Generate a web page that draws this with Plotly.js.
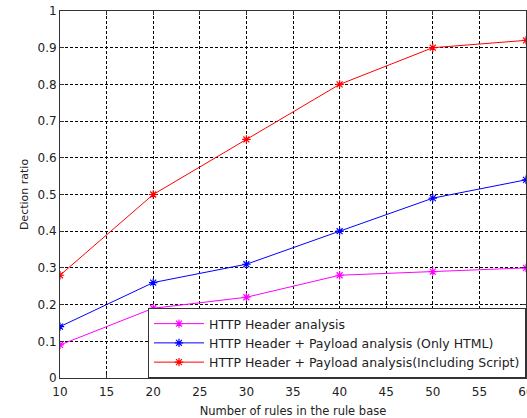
<!DOCTYPE html>
<html><head><meta charset="utf-8">
<script src="https://cdn.plot.ly/plotly-3.0.1.min.js"></script>
<style>body{margin:0;padding:0;background:#fff}#c{width:527px;height:418px}</style>
</head><body><div id="c"></div>
<script>
const rules = [10, 20, 30, 40, 50, 60];
const headerOnly = [0.09, 0.19, 0.22, 0.28, 0.29, 0.30];
const payloadHtml = [0.14, 0.26, 0.31, 0.40, 0.49, 0.54];
const payloadScript = [0.28, 0.50, 0.65, 0.80, 0.90, 0.92];
const seriesNames = ["HTTP Header analysis", "HTTP Header + Payload analysis (Only HTML)", "HTTP Header + Payload analysis(Including Script)"];
const colors = ["#ff00ff", "#0000ff", "#ff0000"];
const xTicks = [10, 15, 20, 25, 30, 35, 40, 45, 50, 55, 60];
const yTicks = [0, 0.1, 0.2, 0.3, 0.4, 0.5, 0.6, 0.7, 0.8, 0.9, 1];

const FONT = 'DejaVu Sans, Verdana, sans-serif';
const ys = [headerOnly, payloadHtml, payloadScript];
const traces = ys.map((y, i) => ({
  x: rules, y: y, name: seriesNames[i], type: 'scatter', mode: 'lines+markers',
  line: {color: colors[i], width: 1},
  marker: {symbol: 'asterisk-open', size: 7, color: colors[i], line: {color: colors[i], width: 1.2}}
}));

const axisCommon = {
  showline: true, linecolor: '#333', linewidth: 1, mirror: 'ticks',
  ticks: 'inside', ticklen: 4, tickcolor: '#333',
  showgrid: true, gridcolor: '#000', griddash: '3px,2px', gridwidth: 1,
  zeroline: false, automargin: false, ticklabeloverflow: 'allow',
  tickfont: {family: FONT, size: 12, color: '#222'}
};

const layout = {
  width: 527, height: 418,
  margin: {l: 60, r: 1, t: 11, b: 40},
  paper_bgcolor: '#fff', plot_bgcolor: '#fff',
  showlegend: true,
  xaxis: Object.assign({}, axisCommon, {
    range: [10, 60], tickvals: xTicks, ticktext: xTicks.map(String), ticklabelstandoff: 3,
    title: {text: 'Number of rules in the rule base', font: {family: FONT, size: 11.5, color: '#222'}}
  }),
  yaxis: Object.assign({}, axisCommon, {
    range: [0, 1], tickvals: yTicks, ticktext: yTicks.map(String),
    title: {text: 'Dection ratio', font: {family: FONT, size: 11, color: '#222'}}
  }),
  legend: {
    x: 1, y: 0, xanchor: 'right', yanchor: 'bottom',
    bgcolor: '#fff', bordercolor: '#333', borderwidth: 1,
    font: {family: FONT, size: 12.5, color: '#222'},
    tracegroupgap: 0, itemwidth: 50
  }
};

Plotly.newPlot('c', traces, layout, {displayModeBar: false, staticPlot: true});
</script></body></html>
